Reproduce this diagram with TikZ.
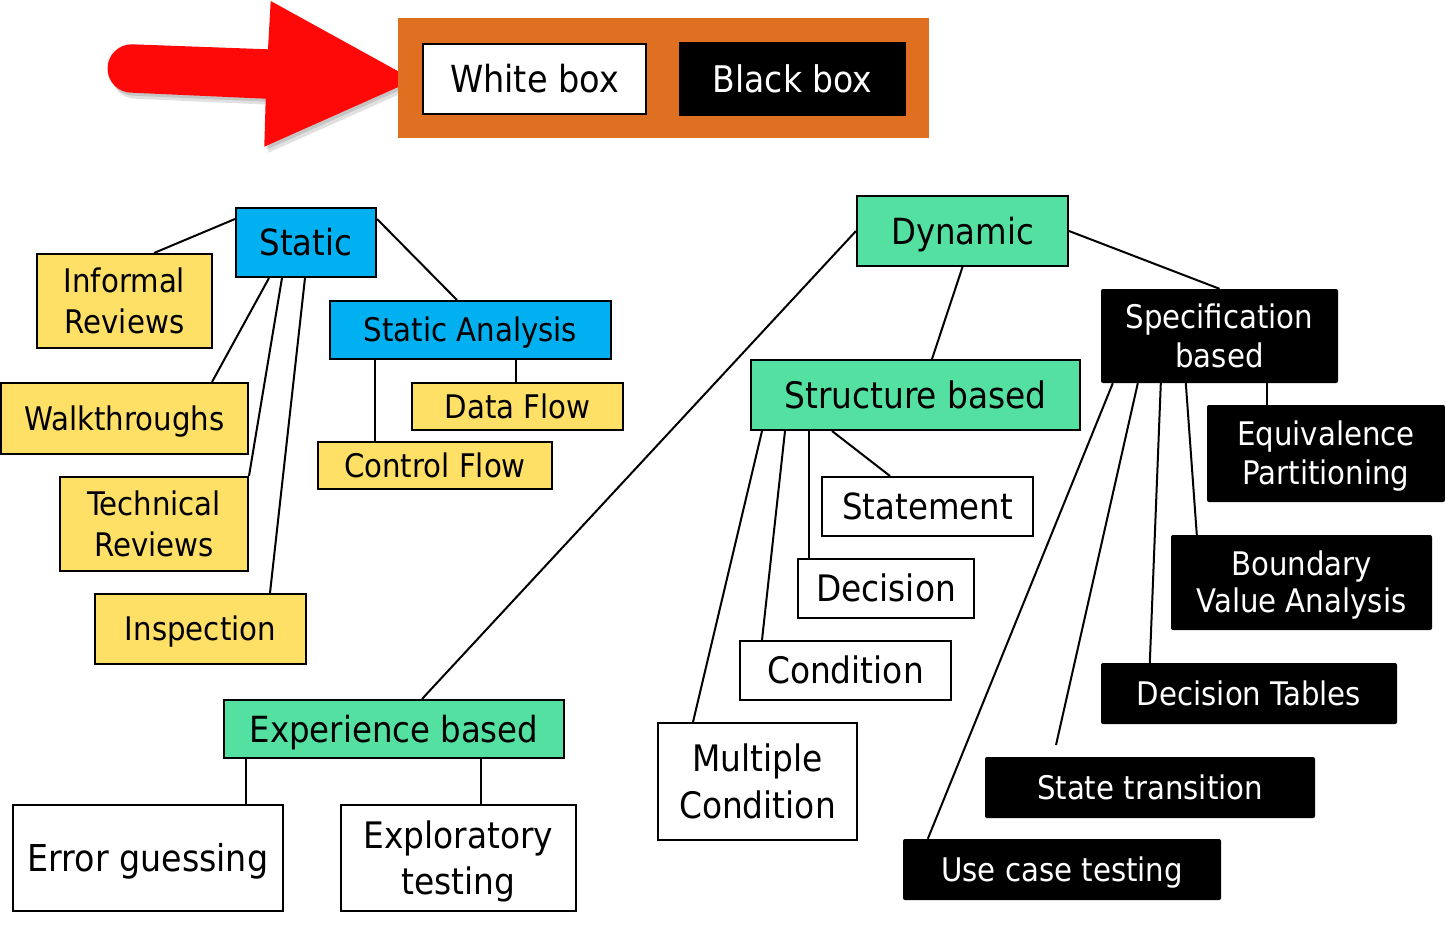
\documentclass[tikz,border=0pt]{standalone}
\usepackage{fontspec}
\setmainfont{DejaVu Sans Condensed}
\usetikzlibrary{calc}
\definecolor{orng}{HTML}{DF7022}
\definecolor{blu}{HTML}{00B0F0}
\definecolor{yel}{HTML}{FFE066}
\definecolor{grn}{HTML}{53E0A1}
\definecolor{arr}{HTML}{FF0808}
\newcommand\fs[2]{\fontsize{#1}{#2}\selectfont}
\newcommand\twoln[2]{\rule{0pt}{.729em}\smash{#1}\\\smash{#2}}
\newcommand\oneln[1]{\rule{0pt}{.729em}\smash{#1}}
\tikzset{
  bx/.style={draw=black, line width=2pt, inner sep=0pt, align=center},
  wbox/.style={bx, fill=white},
  ybox/.style={bx, fill=yel},
  bbox/.style={bx, fill=blu},
  gbox/.style={bx, fill=grn},
  kbox/.style={fill=black, text=white, inner sep=0pt, align=center, rounded corners=2pt},
  sm/.style={font=\fs{32.5}{40}},
  lg/.style={font=\fs{36.5}{45}},
  ln/.style={line width=2pt, black},
}
\begin{document}
\begin{tikzpicture}[x=1pt,y=-1pt]
\useasboundingbox (0,0) rectangle (1445,926);
% arrow shadow and arrow
\fill[black, opacity=0.12] (135.7,50.3) -- (272,55.3) -- (274.7,7) -- (418,86) -- (268.3,152.7) -- (269.7,104.7) -- (135.7,98.7) arc[start angle=-90, end angle=-270, radius=24.2pt] -- cycle;
\fill[black, opacity=0.12] (133.7,47.3) -- (270,52.3) -- (272.7,4) -- (416,83) -- (266.3,149.7) -- (267.7,101.7) -- (133.7,95.7) arc[start angle=-90, end angle=-270, radius=24.2pt] -- cycle;
\fill[arr] (131.7,44.3) -- (268,49.3) -- (270.7,1) -- (414,80) -- (264.3,146.7) -- (265.7,98.7) -- (131.7,92.7) arc[start angle=-90, end angle=-270, radius=24.2pt] -- cycle;
% top frame
\node[fill=orng, minimum width=531pt, minimum height=120pt, inner sep=0pt] (frame) at (663.5,78) {};
\node[wbox, font=\fs{37.3}{45}, minimum width=223pt, minimum height=70pt] (white) at (534.5,79) {\oneln{White box}};
\node[kbox, font=\fs{36.7}{45}, minimum width=227pt, minimum height=74pt, rounded corners=0pt] (black) at (792.5,79) {\oneln{Black box}};
% static
\node[bbox, font=\fs{36}{45}, minimum width=140pt, minimum height=69pt] (static) at (306,242.5) {\oneln{Static}};
\node[ybox, font=\fs{32.5}{41}, minimum width=175pt, minimum height=94pt] (inf) at (124.5,301) {\twoln{Informal}{Reviews}};
\node[ybox, sm, minimum width=247pt, minimum height=71pt] (walk) at (124.5,418.5) {\oneln{Walkthroughs}};
\node[ybox, font=\fs{32.5}{41}, minimum width=188pt, minimum height=94pt] (tech) at (154,524) {\twoln{Technical}{Reviews}};
\node[ybox, sm, minimum width=211pt, minimum height=70pt] (insp) at (200.5,629) {\oneln{Inspection}};
\node[bbox, sm, minimum width=281pt, minimum height=58pt] (sa) at (470.5,330) {\oneln{Static Analysis}};
\node[ybox, sm, minimum width=211pt, minimum height=47pt] (df) at (517.5,406.5) {\oneln{Data Flow}};
\node[ybox, sm, minimum width=234pt, minimum height=47pt] (cf) at (435,465.5) {\oneln{Control Flow}};
% dynamic
\node[gbox, font=\fs{36}{45}, minimum width=211pt, minimum height=70pt] (dyn) at (962.5,231) {\oneln{Dynamic}};
\node[gbox, lg, minimum width=329pt, minimum height=70pt] (struct) at (915.5,395) {\oneln{Structure based}};
\node[wbox, font=\fs{36}{45}, minimum width=211pt, minimum height=59pt] (stmt) at (927.5,506.5) {\oneln{Statement}};
\node[wbox, lg, minimum width=176pt, minimum height=59pt] (dec) at (886,588.5) {\oneln{Decision}};
\node[wbox, lg, minimum width=211pt, minimum height=59pt] (cond) at (845.5,670.5) {\oneln{Condition}};
\node[wbox, font=\fs{36.5}{47}, minimum width=199pt, minimum height=117pt] (mult) at (757.5,781.5) {\twoln{Multiple}{Condition}};
% specification
\node[kbox, font=\fs{32.5}{39}, minimum width=237pt, minimum height=94pt] (spec) at (1219.5,336) {\twoln{Specification}{based}};
\node[kbox, font=\fs{32.5}{39}, minimum width=238pt, minimum height=97pt] (eq) at (1326,453.5) {\twoln{Equivalence}{Partitioning}};
\node[kbox, font=\fs{32.5}{37}, minimum width=261pt, minimum height=95pt] (bva) at (1301.5,582.5) {\twoln{Boundary}{Value Analysis}};
\node[kbox, sm, minimum width=296pt, minimum height=61pt] (dt) at (1249,693.5) {\oneln{Decision Tables}};
\node[kbox, sm, minimum width=330pt, minimum height=61pt] (st) at (1150,787.5) {\oneln{State transition}};
\node[kbox, sm, minimum width=318pt, minimum height=61pt] (uc) at (1062,869.5) {\oneln{Use case testing}};
\coordinate (stend) at (1056,745);
% experience
\node[gbox, font=\fs{36}{45}, minimum width=340pt, minimum height=58pt] (exp) at (394,729) {\oneln{Experience based}};
\node[wbox, font=\fs{37}{45}, minimum width=270pt, minimum height=106pt] (err) at (148,858) {\oneln{Error guessing}};
\node[wbox, font=\fs{36.5}{46}, minimum width=235pt, minimum height=106pt] (expl) at (458.5,858) {\twoln{Exploratory}{testing}};
% connectors
\draw[ln] ([yshift=-12pt]static.north west) -- ([xshift=118pt]inf.north west);
\draw[ln] ([xshift=34pt]static.south west) -- ([xshift=212pt]walk.north west);
\draw[ln] ([xshift=47pt]static.south west) -- (tech.north east);
\draw[ln] ([xshift=70pt]static.south west) -- ([xshift=176pt]insp.north west);
\draw[ln] ([yshift=-12pt]static.north east) -- ([xshift=128pt]sa.north west);
\draw[ln] ([xshift=46pt]sa.south west) -- ([xshift=58pt]cf.north west);
\draw[ln] ([xshift=187pt]sa.south west) -- ([xshift=105pt]df.north west);
\draw[ln] (dyn.west) -- ([xshift=199pt]exp.north west);
\draw[ln] (dyn.south) -- ([xshift=182pt]struct.north west);
\draw[ln] (dyn.east) -- (spec.north);
\draw[ln] ([xshift=82pt]struct.south west) -- ([xshift=69pt]stmt.north west);
\draw[ln] ([xshift=59pt]struct.south west) -- ([xshift=12pt]dec.north west);
\draw[ln] ([xshift=35pt]struct.south west) -- ([xshift=23pt]cond.north west);
\draw[ln] ([xshift=12pt]struct.south west) -- ([xshift=36pt]mult.north west);
\draw[ln] ([xshift=166pt]spec.south west) -- ([xshift=60pt]eq.north west);
\draw[ln] ([xshift=85pt]spec.south west) -- ([xshift=26pt]bva.north west);
\draw[ln] ([xshift=60pt]spec.south west) -- ([xshift=49pt]dt.north west);
\draw[ln] ([xshift=37pt]spec.south west) -- (stend);
\draw[ln] ([xshift=12pt]spec.south west) -- ([xshift=25pt]uc.north west);
\draw[ln] ([xshift=23pt]exp.south west) -- ([xshift=234pt]err.north west);
\draw[ln] ([xshift=258pt]exp.south west) -- ([xshift=141pt]expl.north west);
\end{tikzpicture}
\end{document}
